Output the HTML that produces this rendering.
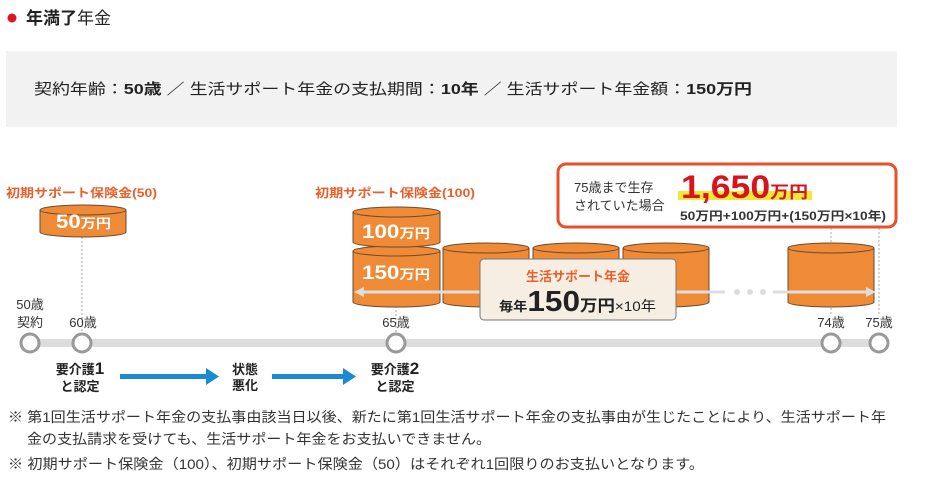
<!DOCTYPE html>
<html><head><meta charset="utf-8"><style>
body{margin:0;background:#fff;width:925px;height:483px;overflow:hidden}
svg text{font-family:"Liberation Sans","Noto Sans CJK JP",sans-serif}
</style></head><body>
<svg width="925" height="483" viewBox="0 0 925 483" xmlns="http://www.w3.org/2000/svg">
<circle cx="12" cy="18" r="4.5" fill="#e0141e"/>
<text x="26" y="24" font-size="17" fill="#222"><tspan font-weight="bold">年満了</tspan>年金</text>
<rect x="6" y="51" width="891" height="76" fill="#f2f2f2"/>
<text x="34" y="94" font-size="15" fill="#222" textLength="718" lengthAdjust="spacingAndGlyphs">契約年齢：<tspan font-weight="bold">50歳</tspan> ／ 生活サポート年金の支払期間：<tspan font-weight="bold">10年</tspan> ／ 生活サポート年金額：<tspan font-weight="bold">150万円</tspan></text>

<text x="6" y="197" font-size="12" font-weight="bold" fill="#e8602c" textLength="151" lengthAdjust="spacingAndGlyphs">初期サポート保険金(50)</text>
<text x="315" y="197" font-size="12" font-weight="bold" fill="#e8602c" textLength="160" lengthAdjust="spacingAndGlyphs">初期サポート保険金(100)</text>

<g stroke="#aaa" stroke-width="1" stroke-dasharray="2,2">
<line x1="82" y1="237" x2="82" y2="332"/>
<line x1="396" y1="306" x2="396" y2="332"/>
<line x1="831" y1="228" x2="831" y2="314"/>
<line x1="879" y1="228" x2="879" y2="314"/>
</g>

<g fill="#ef8a37" stroke="#6b4a30" stroke-width="1">
<path d="M40,210 v22 a43,5 0 0 0 86,0 v-22"/>
<ellipse cx="83" cy="210" rx="43" ry="5"/>
<path d="M353,251 v51 a43,5 0 0 0 87,0 v-51"/>
<ellipse cx="396.5" cy="251" rx="43.5" ry="5"/>
<path d="M353,212 v30 a43,5 0 0 0 87,0 v-30"/>
<ellipse cx="396.5" cy="212" rx="43.5" ry="5"/>
<path d="M443,248 v54 a43,5 0 0 0 86,0 v-54"/><ellipse cx="486" cy="248" rx="43" ry="5"/>
<path d="M533,248 v54 a43,5 0 0 0 86,0 v-54"/><ellipse cx="576" cy="248" rx="43" ry="5"/>
<path d="M623,248 v54 a43,5 0 0 0 86,0 v-54"/><ellipse cx="666" cy="248" rx="43" ry="5"/>
<path d="M788,248 v54 a43,5 0 0 0 86,0 v-54"/><ellipse cx="831" cy="248" rx="43" ry="5"/>
</g>
<g fill="#fff" font-weight="bold">
<text x="56" y="228" font-size="19" textLength="55" lengthAdjust="spacingAndGlyphs">50<tspan font-size="13">万円</tspan></text>
<text x="362" y="238" font-size="19" textLength="68" lengthAdjust="spacingAndGlyphs">100<tspan font-size="13">万円</tspan></text>
<text x="362" y="279" font-size="19" textLength="68" lengthAdjust="spacingAndGlyphs">150<tspan font-size="13">万円</tspan></text>
</g>

<g stroke="#ddd" stroke-width="3">
<line x1="362" y1="292" x2="725" y2="292"/>
<line x1="773" y1="292" x2="868" y2="292"/>
</g>
<path d="M354,292 l10,-5 v10z" fill="#ddd"/>
<path d="M876,292 l-10,-5 v10z" fill="#ddd"/>
<circle cx="737" cy="292" r="3" fill="#ddd"/><circle cx="750" cy="292" r="3" fill="#ddd"/><circle cx="763" cy="292" r="3" fill="#ddd"/>

<rect x="480" y="259" width="196" height="61" rx="4" fill="#f6eee3" stroke="#777" stroke-width="1"/>
<text x="578" y="281" font-size="13" font-weight="bold" fill="#e8602c" text-anchor="middle">生活サポート年金</text>
<text x="499" y="311" font-size="13" font-weight="bold" fill="#222" textLength="157" lengthAdjust="spacingAndGlyphs">毎年<tspan font-size="29">150</tspan><tspan font-size="16">万円</tspan><tspan font-weight="normal" font-size="14">×10年</tspan></text>

<rect x="558" y="164" width="338" height="63" rx="8" fill="#fff" stroke="#e8502a" stroke-width="3"/>
<text x="574" y="192" font-size="13" fill="#333">75歳まで生存</text>
<text x="574" y="210" font-size="13" fill="#333">されていた場合</text>
<rect x="678" y="191" width="134" height="9" fill="#f3e83a"/>
<text x="681" y="198" font-size="32" font-weight="bold" fill="#d7141c" textLength="127" lengthAdjust="spacingAndGlyphs">1,650<tspan font-size="17">万円</tspan></text>
<text x="680" y="220" font-size="12" font-weight="bold" fill="#333" textLength="206" lengthAdjust="spacingAndGlyphs">50万円+100万円+(150万円×10年)</text>

<rect x="30" y="339" width="850" height="8" fill="#ddd"/>
<g fill="#fff" stroke="#999" stroke-width="3">
<circle cx="30" cy="343" r="9"/><circle cx="82" cy="343" r="9"/><circle cx="396" cy="343" r="9"/><circle cx="831" cy="343" r="9"/><circle cx="879" cy="343" r="9"/>
</g>
<g font-size="13" fill="#333" text-anchor="middle">
<text x="30" y="309">50歳</text><text x="30" y="327">契約</text>
<text x="83" y="327">60歳</text>
<text x="396" y="327">65歳</text>
<text x="831" y="327">74歳</text>
<text x="879" y="327">75歳</text>
</g>
<g font-size="13" font-weight="bold" fill="#222" text-anchor="middle">
<text x="80" y="374">要介護<tspan font-size="17">1</tspan></text><text x="80" y="391">と認定</text>
<text x="245" y="374">状態</text><text x="245" y="390">悪化</text>
<text x="395" y="374">要介護<tspan font-size="17">2</tspan></text><text x="395" y="391">と認定</text>
</g>
<g fill="#1a8ad4">
<rect x="120" y="374" width="86" height="5"/><path d="M206,368 l13,8.5 l-13,8.5z"/>
<rect x="272" y="374" width="71" height="5"/><path d="M343,368 l13,8.5 l-13,8.5z"/>
</g>

<g font-size="14" fill="#333">
<text x="8" y="422" textLength="878" lengthAdjust="spacingAndGlyphs">※ 第1回生活サポート年金の支払事由該当日以後、新たに第1回生活サポート年金の支払事由が生じたことにより、生活サポート年</text>
<text x="27" y="444" textLength="464" lengthAdjust="spacingAndGlyphs">金の支払請求を受けても、生活サポート年金をお支払いできません。</text>
<text x="8" y="469" textLength="696" lengthAdjust="spacingAndGlyphs">※ 初期サポート保険金（100）、初期サポート保険金（50）はそれぞれ1回限りのお支払いとなります。</text>
</g>
</svg>
</body></html>
